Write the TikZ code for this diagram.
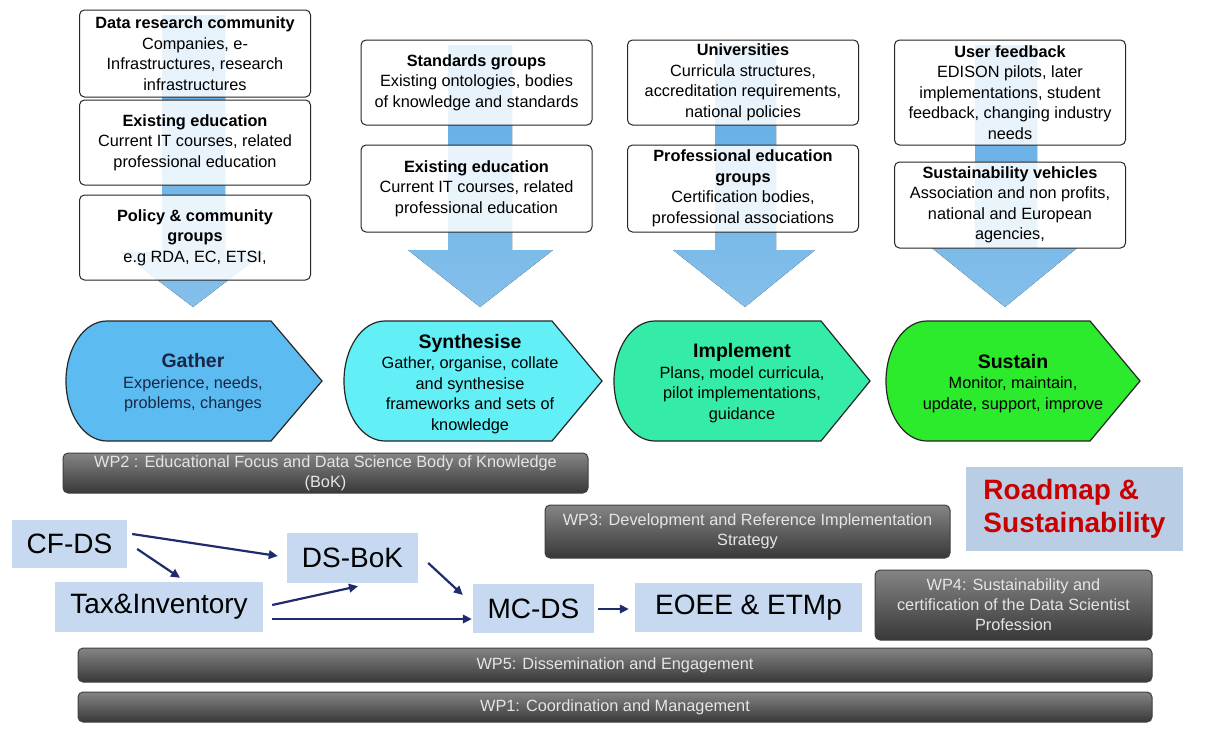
\documentclass[tikz,border=0pt]{standalone}
\usepackage{fontspec}
\setmainfont{Liberation Sans}
\usetikzlibrary{arrows.meta}

\definecolor{arrowblue}{RGB}{92,170,228}
\definecolor{gathercol}{RGB}{92,188,242}
\definecolor{synthcol}{RGB}{98,240,246}
\definecolor{implcol}{RGB}{52,236,168}
\definecolor{sustcol}{RGB}{44,234,44}
\definecolor{dsblue}{RGB}{198,217,240}
\definecolor{roadblue}{RGB}{185,205,229}
\definecolor{navy}{RGB}{30,44,110}
\definecolor{gathertext}{RGB}{26,38,70}
\definecolor{roadred}{RGB}{200,0,0}

\begin{document}
\begin{tikzpicture}[x=1pt,y=-1pt,
  topbox/.style={draw=black!85,line width=1pt,rounded corners=5pt,fill=white,fill opacity=0.85,text opacity=1,
    minimum width=231pt,align=center,inner sep=0pt,font=\fontsize{16.3}{20.5}\selectfont},
  phase/.style={draw=black!85,line width=1.2pt},
  chevtext/.style={align=center,inner sep=0pt,font=\fontsize{16.3}{20.5}\selectfont},
  wpbar/.style={draw=black!75,line width=1pt,rounded corners=5pt,top color=black!48,bottom color=black!78,
    text=black!10,align=center,inner sep=0pt,font=\fontsize{16.3}{20}\selectfont},
  dsbox/.style={fill=dsblue,inner sep=0pt,font=\fontsize{28}{30}\selectfont},
  link/.style={draw=navy,line width=2.2pt,-{Triangle[length=9pt,width=8.5pt]}}]

\fill[white] (0,0) rectangle (1207,728);

% big arrows behind the source boxes
\fill[top color=arrowblue,bottom color=arrowblue!75!white] (162,15) -- (225,15) -- (225,252) -- (265,252) -- (193,307) -- (121,252) -- (162,252) -- cycle;
\fill[top color=arrowblue,bottom color=arrowblue!75!white] (448,45) -- (512,45) -- (512,250) -- (553,250) -- (480,307) -- (408,250) -- (448,250) -- cycle;
\fill[top color=arrowblue,bottom color=arrowblue!75!white] (715,45) -- (776,45) -- (776,250) -- (815,250) -- (745,307) -- (673,250) -- (715,250) -- cycle;
\fill[top color=arrowblue,bottom color=arrowblue!75!white] (975,45) -- (1037,45) -- (1037,248) -- (1077,248) -- (1005,307) -- (932,248) -- (975,248) -- cycle;

% sources
\node[topbox,minimum height=87pt] (datacomm) at (195,53.5)
  {\textbf{Data research community}\\Companies, e-\\Infrastructures, research\\infrastructures};
\node[topbox,minimum height=85pt] (exedu1) at (195,142.5)
  {\textbf{Existing education}\\Current IT courses, related\\professional education};
\node[topbox,minimum height=85pt] (policy) at (195,237.5)
  {\textbf{Policy \& community}\\\textbf{groups}\\e.g RDA, EC, ETSI,};
\node[topbox,minimum height=85pt] (standards) at (476.5,82.5)
  {\textbf{Standards groups}\\Existing ontologies, bodies\\of knowledge and standards};
\node[topbox,minimum height=87pt] (exedu2) at (476.5,188.5)
  {\textbf{Existing education}\\Current IT courses, related\\professional education};
\node[topbox,minimum height=85pt] (univ) at (743,82.5)
  {\textbf{Universities}\\Curricula structures,\\accreditation requirements,\\national policies};
\node[topbox,minimum height=87pt] (profedu) at (743,188.5)
  {\textbf{Professional education}\\\textbf{groups}\\Certification bodies,\\professional associations};
\node[topbox,minimum height=105pt] (feedback) at (1010,92.5)
  {\textbf{User feedback}\\EDISON pilots, later\\implementations, student\\feedback, changing industry\\needs};
\node[topbox,minimum height=86pt] (vehicles) at (1010,205)
  {\textbf{Sustainability vehicles}\\Association and non profits,\\national and European\\agencies,};

% phases
\draw[phase,fill=gathercol] (107,321) -- (271,321) -- (322,381) -- (271,441) -- (107,441)
  .. controls (84,441) and (66,414) .. (66,381) .. controls (66,348) and (84,321) .. (107,321);
\draw[phase,fill=synthcol] (385,321) -- (552,321) -- (602,381) -- (552,441) -- (385,441)
  .. controls (362,441) and (344,414) .. (344,381) .. controls (344,348) and (362,321) .. (385,321);
\draw[phase,fill=implcol] (655,321) -- (821,321) -- (870,381) -- (821,441) -- (655,441)
  .. controls (632,441) and (614,414) .. (614,381) .. controls (614,348) and (632,321) .. (655,321);
\draw[phase,fill=sustcol] (927,321) -- (1090,321) -- (1140,381) -- (1090,441) -- (927,441)
  .. controls (904,441) and (886,414) .. (886,381) .. controls (886,348) and (904,321) .. (927,321);

\node[chevtext,text=gathertext] (gather) at (193,383)
  {{\fontsize{19.5}{21}\selectfont\bfseries Gather}\\Experience, needs,\\problems, changes};
\node[chevtext] (synth) at (470,384)
  {{\fontsize{19.5}{21}\selectfont\bfseries Synthesise}\\Gather, organise, collate\\and synthesise\\frameworks and sets of\\knowledge};
\node[chevtext] (impl) at (742,383)
  {{\fontsize{19.5}{21}\selectfont\bfseries Implement}\\Plans, model curricula,\\pilot implementations,\\guidance};
\node[chevtext] (sustain) at (1013,383.5)
  {{\fontsize{19.5}{21}\selectfont\bfseries Sustain}\\Monitor, maintain,\\update, support, improve};

% work packages
\node[wpbar,minimum width=525pt,minimum height=40pt] (wp2) at (325.5,473)
  {WP2 : Educational Focus and Data Science Body of Knowledge\\(BoK)};
\node[wpbar,minimum width=405pt,minimum height=53pt] (wp3) at (747.5,531.5)
  {WP3: Development and Reference Implementation\\Strategy};
\node[wpbar,minimum width=277pt,minimum height=70pt] (wp4) at (1013.5,605)
  {WP4: Sustainability and\\certification of the Data Scientist\\Profession};
\node[wpbar,minimum width=1074pt,minimum height=34pt] (wp5) at (615,665)
  {WP5: Dissemination and Engagement};
\node[wpbar,minimum width=1074pt,minimum height=30pt] (wp1) at (615,707)
  {WP1: Coordination and Management};

\node[fill=roadblue,minimum width=217pt,minimum height=84pt,align=left,inner sep=0pt,
  text=roadred,font=\fontsize{28}{33}\selectfont\bfseries] (roadmap) at (1074.5,509)
  {Roadmap \&\\Sustainability};

% outputs
\node[dsbox,minimum width=115pt,minimum height=48pt] (cfds) at (69.5,544) {CF-DS};
\node[dsbox,minimum width=131pt,minimum height=50pt] (dsbok) at (352.5,558) {DS-BoK};
\node[dsbox,minimum width=208pt,minimum height=50pt] (tax) at (159,607) {Tax\&Inventory};
\node[dsbox,minimum width=121pt,minimum height=49pt] (mcds) at (533.5,608.5) {MC-DS};
\node[dsbox,minimum width=227pt,minimum height=49pt] (eoee) at (748.5,607.5) {EOEE \& ETMp};

\draw[link] ([shift={(5,-10)}]cfds.east) -- ([shift={(-9,-2)}]dsbok.west);
\draw[link] ([shift={(10,5)}]cfds.east) -- ([shift={(21,-4)}]tax.north);
\draw[link] ([shift={(9,-2)}]tax.east) -- ([shift={(5.5,3)}]dsbok.south);
\draw[link] ([shift={(9,12)}]tax.east) -- ([shift={(-1,10.5)}]mcds.west);
\draw[link] ([shift={(10,5)}]dsbok.east) -- ([shift={(-10,-13.5)}]mcds.west);
\draw[link] ([shift={(4,0.5)}]mcds.east) -- ([shift={(-6,1.5)}]eoee.west);
\end{tikzpicture}
\end{document}
